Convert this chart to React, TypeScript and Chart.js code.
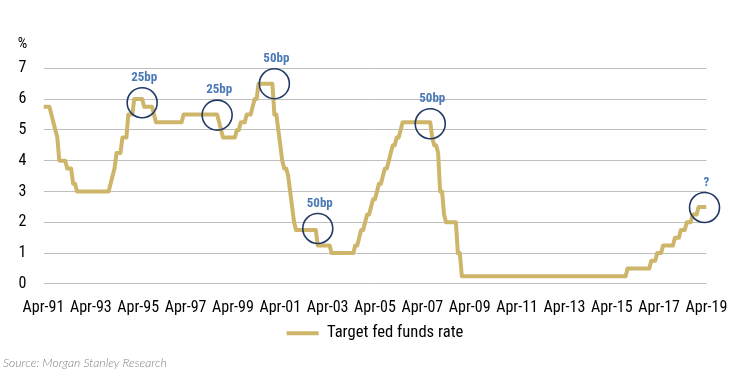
import React, { useEffect, useRef } from "react";
import { Chart, registerables } from "chart.js";

Chart.register(...registerables);

// ---------- data ----------
const seriesName = "Target fed funds rate";
const startMonth = "1991-04";
const endMonth = "2019-04";

// month of each change and end-of-month target rate (%)
const changeMonths = [
  "1991-04", "1991-08", "1991-09", "1991-10", "1991-11", "1991-12",
  "1992-04", "1992-07", "1992-09",
  "1994-02", "1994-03", "1994-04", "1994-05", "1994-08", "1994-11",
  "1995-02", "1995-07", "1995-12", "1996-01", "1997-03",
  "1998-09", "1998-10", "1998-11",
  "1999-06", "1999-08", "1999-11", "2000-02", "2000-03", "2000-05",
  "2001-01", "2001-03", "2001-04", "2001-05", "2001-06", "2001-08",
  "2001-09", "2001-10", "2001-11", "2001-12", "2002-11", "2003-06",
  "2004-06", "2004-08", "2004-09", "2004-11", "2004-12",
  "2005-02", "2005-03", "2005-05", "2005-06", "2005-08", "2005-09",
  "2005-11", "2005-12", "2006-01", "2006-03", "2006-05", "2006-06",
  "2007-09", "2007-10", "2007-12", "2008-01", "2008-03", "2008-04",
  "2008-10", "2008-12",
  "2015-12", "2016-12", "2017-03", "2017-06", "2017-12",
  "2018-03", "2018-06", "2018-09", "2018-12",
];
const changeRates = [
  5.75, 5.5, 5.25, 5.0, 4.75, 4.0,
  3.75, 3.25, 3.0,
  3.25, 3.5, 3.75, 4.25, 4.75, 5.5,
  6.0, 5.75, 5.5, 5.25, 5.5,
  5.25, 5.0, 4.75,
  5.0, 5.25, 5.5, 5.75, 6.0, 6.5,
  5.5, 5.0, 4.5, 4.0, 3.75, 3.5,
  3.0, 2.5, 2.0, 1.75, 1.25, 1.0,
  1.25, 1.5, 1.75, 2.0, 2.25,
  2.5, 2.75, 3.0, 3.25, 3.5, 3.75,
  4.0, 4.25, 4.5, 4.75, 5.0, 5.25,
  4.75, 4.5, 4.25, 3.0, 2.25, 2.0,
  1.0, 0.25,
  0.5, 0.75, 1.0, 1.25, 1.5,
  1.75, 2.0, 2.25, 2.5,
];

const tickLabels = [
  "Apr-91", "Apr-93", "Apr-95", "Apr-97", "Apr-99", "Apr-01", "Apr-03", "Apr-05",
  "Apr-07", "Apr-09", "Apr-11", "Apr-13", "Apr-15", "Apr-17", "Apr-19",
];

const yMin = 0;
const yMax = 7;
const yUnit = "%";

const annotMonths = ["1995-06", "1998-08", "2001-01", "2002-11", "2007-08", "2019-03"];
const annotRates = [5.88, 5.48, 6.5, 1.8, 5.2, 2.48];
const annotLabels = ["25bp", "25bp", "50bp", "50bp", "50bp", "?"];

const sourceText = "Source: Morgan Stanley Research";

// ---------- helpers ----------
const FAMILY = "'Roboto Condensed', Roboto, sans-serif";
const GOLD = "#CDB569";

function monthIndex(s: string): number {
  const [y, m] = s.split("-").map(Number);
  const [y0, m0] = startMonth.split("-").map(Number);
  return (y - y0) * 12 + (m - m0);
}

function buildSeries() {
  const last = monthIndex(endMonth);
  const idx = changeMonths.map(monthIndex);
  const pts: { x: number; y: number }[] = [];
  let k = 0;
  for (let i = 0; i <= last; i++) {
    while (k + 1 < idx.length && idx[k + 1] <= i) k++;
    pts.push({ x: i, y: changeRates[k] });
  }
  return pts;
}

const overlayPlugin = {
  id: "overlay",
  afterDatasetsDraw(chart: any) {
    const { ctx, scales } = chart;
    const x = scales.x;
    const y = scales.y;
    ctx.save();
    annotMonths.forEach((m, i) => {
      const px = x.getPixelForValue(monthIndex(m));
      const py = y.getPixelForValue(annotRates[i]);
      ctx.beginPath();
      ctx.arc(px, py, 15, 0, Math.PI * 2);
      ctx.strokeStyle = "#223A66";
      ctx.lineWidth = 1.6;
      ctx.stroke();
      ctx.font = `bold 13px ${FAMILY}`;
      ctx.fillStyle = "#4A79B6";
      ctx.textAlign = "center";
      ctx.textBaseline = "middle";
      ctx.fillText(annotLabels[i], px + 2, py - 25);
    });
    ctx.font = `15px ${FAMILY}`;
    ctx.fillStyle = "#000";
    ctx.textAlign = "center";
    ctx.textBaseline = "middle";
    ctx.fillText(yUnit, y.right - 21, 44);
    ctx.font = "italic 300 12.2px Lato";
    ctx.fillStyle = "#808080";
    ctx.textAlign = "left";
    ctx.fillText(sourceText, 3, 363.5);
    ctx.restore();
  },
};

export default function App() {
  const ref = useRef<HTMLCanvasElement>(null);
  useEffect(() => {
    const chart = new Chart(ref.current!, {
      type: "line",
      data: {
        datasets: [
          {
            label: seriesName,
            data: buildSeries(),
            borderColor: GOLD,
            backgroundColor: GOLD,
            borderWidth: 4,
            pointRadius: 0,
            tension: 0,
            fill: false,
            borderJoinStyle: "round",
          },
        ],
      },
      options: {
        animation: false,
        responsive: false,
        events: [],
        layout: { padding: { left: 3, right: 30.5, top: 68.3, bottom: 38.5 } },
        scales: {
          x: {
            type: "linear",
            min: 0,
            max: monthIndex(endMonth),
            grid: { display: false },
            border: { display: false },
            ticks: {
              stepSize: 24,
              autoSkip: false,
              maxRotation: 0,
              padding: 6,
              color: "#000",
              font: { family: FAMILY, size: 16 },
              callback: (v: any) => tickLabels[Math.round(Number(v) / 24)] ?? "",
            },
            afterFit: (s: any) => {
              s.height = 31;
            },
          },
          y: {
            min: yMin,
            max: yMax,
            grid: { color: "#BFBFBF", lineWidth: 1, drawTicks: false },
            border: { display: false },
            ticks: {
              stepSize: 1,
              padding: 17,
              color: "#000",
              font: { family: FAMILY, size: 16 },
            },
            afterFit: (s: any) => {
              s.width = 40.5;
            },
          },
        },
        plugins: {
          legend: {
            position: "bottom",
            fullSize: false,
            labels: {
              boxWidth: 32,
              boxHeight: 4,
              padding: 10,
              color: "#000",
              font: { family: FAMILY, size: 16.6 },
              generateLabels: (c: any) =>
                c.data.datasets.map((d: any, i: number) => ({
                  text: d.label,
                  fillStyle: GOLD,
                  strokeStyle: GOLD,
                  lineWidth: 0,
                  hidden: false,
                  datasetIndex: i,
                  fontColor: "#000",
                })),
            },
          },
          tooltip: { enabled: false },
        },
      },
      plugins: [overlayPlugin],
    } as any);
    return () => chart.destroy();
  }, []);
  return (
    <div style={{ position: "absolute", left: 0, top: 0, width: 737, height: 390, background: "#fff" }}>
      <canvas ref={ref} width={737} height={390} style={{ display: "block" }} />
    </div>
  );
}
